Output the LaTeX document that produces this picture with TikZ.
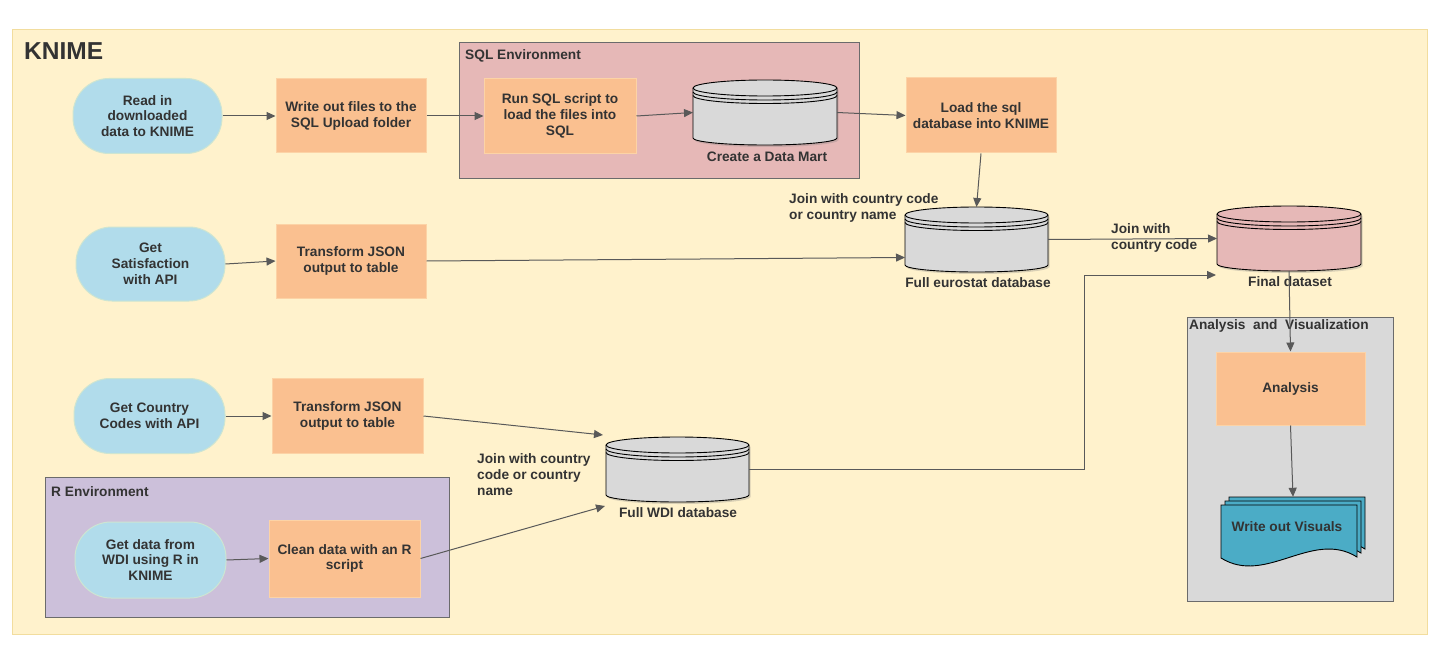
\documentclass[tikz,border=0pt]{standalone}
\usepackage{fontspec}
\setmainfont{Liberation Sans}
\usetikzlibrary{arrows.meta,calc,shadows}
\definecolor{kbg}{HTML}{FFF2CC}
\definecolor{kbd}{HTML}{F2DD9E}
\definecolor{tblue}{HTML}{B1DCEB}
\definecolor{tbluebd}{HTML}{CDE5D2}
\definecolor{porange}{HTML}{FAC090}
\definecolor{porangebd}{HTML}{FCD3A6}
\definecolor{sqlpink}{HTML}{E6B8B7}
\definecolor{rpurple}{HTML}{CCC0DA}
\definecolor{avgray}{HTML}{D9D9D9}
\definecolor{envbd}{HTML}{6B6B6B}
\definecolor{cylgray}{HTML}{D9D9D9}
\definecolor{docblue}{HTML}{4BACC6}
\definecolor{arrcol}{HTML}{595959}
\definecolor{txt}{HTML}{333333}

% data store cylinder: name, cx, cy, w, h, fill
\newcommand{\dstore}[6]{%
  \pgfmathsetmacro{\dsL}{#2-#4/2}%
  \pgfmathsetmacro{\dsR}{#2+#4/2}%
  \pgfmathsetmacro{\dsT}{#3-#5/2+8}%
  \pgfmathsetmacro{\dsB}{#3+#5/2-7}%
  \pgfmathsetmacro{\dsX}{#4/2}%
  \path[fill=#6, draw=black, line width=0.9pt,
        drop shadow={shadow xshift=1.5pt, shadow yshift=-2pt, opacity=0.3}]
    (\dsL,\dsT) -- (\dsL,\dsB)
    arc[start angle=180, end angle=360, x radius=\dsX pt, y radius=7pt]
    -- (\dsR,\dsT)
    arc[start angle=0, end angle=180, x radius=\dsX pt, y radius=8pt] -- cycle;
  \draw[line width=0.9pt] (\dsL,\dsT) arc[start angle=180, end angle=360, x radius=\dsX pt, y radius=8pt];
  \draw[line width=0.9pt] (\dsL,\dsT+4) arc[start angle=180, end angle=360, x radius=\dsX pt, y radius=8pt];
  \draw[line width=0.9pt] (\dsL,\dsT+7.5) arc[start angle=180, end angle=360, x radius=\dsX pt, y radius=8pt];
  \node[minimum width=#4pt, minimum height=#5pt, inner sep=0pt, outer sep=0pt] (#1) at (#2,#3) {};
}

% one sheet of the multi-document shape, shifted right by #1 and up by #2
\newcommand{\docsheet}[2]{%
  \path[fill=docblue, draw=black, line width=0.9pt]
    (1221+#1,505-#2) -- (1357+#1,505-#2) -- (1357+#1,557-#2)
    .. controls (1312+#1,529-#2) and (1266+#1,586-#2) .. (1221+#1,558-#2) -- cycle;
}

\begin{document}
\begin{tikzpicture}[x=1pt,y=-1pt,
  font=\bfseries\fontsize{13.7}{15.8}\selectfont, text=txt,
  term/.style={rectangle, rounded corners=36pt, fill=tblue, draw=tbluebd,
               line width=1pt, align=center, inner sep=2pt},
  proc/.style={rectangle, fill=porange, draw=porangebd, line width=1pt,
               align=center, inner sep=2pt},
  env/.style={rectangle, draw=envbd, line width=1pt, anchor=north west, inner sep=0pt},
  lbl/.style={inner sep=0pt, align=left},
  arr/.style={draw=arrcol, line width=1pt, -{Triangle[length=9pt,width=8pt]}},
]
\useasboundingbox (0,0) rectangle (1439,647);
\fill[white] (0,0) rectangle (1439,647);

% main container
\node[rectangle, fill=kbg, draw=kbd, line width=1pt, anchor=north west, inner sep=0pt,
      minimum width=1415pt, minimum height=605pt] (knime) at (12,29) {};
\node[lbl, anchor=west] (knimelbl) at (24,51) {\fontsize{24.5}{28}\selectfont KNIME};

% environments
\node[env, fill=sqlpink, minimum width=400pt, minimum height=136pt] (sqlenv) at (459,42) {};
\node[lbl, anchor=west] (sqllbl) at (465,56) {SQL Environment};
\node[env, fill=rpurple, minimum width=404pt, minimum height=140pt] (renv) at (45,477) {};
\node[lbl, anchor=west] (rlbl) at (51,492) {R Environment};
\node[env, fill=avgray, minimum width=206pt, minimum height=284pt] (avenv) at (1187,317) {};
\node[lbl, anchor=west] (avlbl) at (1189,326) {Analysis\ \ and\ \ Visualization};

% row 1
\node[term, minimum width=149pt, minimum height=75pt] (read) at (147.5,116)
  {Read in\\downloaded\\data to KNIME};
\node[proc, minimum width=150pt, minimum height=74pt] (writeout) at (351,116)
  {Write out files to the\\SQL Upload folder};
\node[proc, minimum width=152pt, minimum height=75pt] (runsql) at (560,116)
  {Run SQL script to\\load the files into\\SQL};
\dstore{mart}{765}{112.5}{144}{65}{cylgray}
\node[lbl] (martlbl) at (767,157) {Create a Data Mart};
\node[proc, minimum width=150pt, minimum height=75pt] (load) at (981,115.5)
  {Load the sql\\database into KNIME};

% row 2
\node[term, minimum width=149pt, minimum height=74pt] (sat) at (150.5,264)
  {Get\\Satisfaction\\with API};
\node[proc, minimum width=150pt, minimum height=74pt] (tr1) at (351,261)
  {Transform JSON\\output to table};
\dstore{euro}{976.5}{239.5}{143}{65}{cylgray}
\node[lbl] (eurolbl) at (978,283) {Full eurostat database};
\node[lbl, anchor=west] (join1) at (789,208) {Join with country code\\or country name};
\dstore{final}{1289}{238.5}{144}{65}{sqlpink}
\node[lbl] (finallbl) at (1290,282) {Final dataset};
\node[lbl, anchor=west] (join2) at (1111,238) {Join with\\country code};

% row 3
\node[term, minimum width=151pt, minimum height=75pt] (cc) at (149.5,416)
  {Get Country\\Codes with API};
\node[proc, minimum width=151pt, minimum height=75pt] (tr2) at (347.5,416)
  {Transform JSON\\output to table};
\dstore{wdi}{677.5}{469.5}{143}{65}{cylgray}
\node[lbl] (wdilbl) at (678,513) {Full WDI database};
\node[lbl, anchor=west] (join3) at (477,474.5) {Join with country\\code or country\\name};

% row 4 (R)
\node[term, minimum width=151pt, minimum height=76pt] (wdir) at (150.5,560)
  {Get data from\\WDI using R in\\KNIME};
\node[proc, minimum width=151pt, minimum height=77pt] (clean) at (344.5,558.5)
  {Clean data with an R\\script};

% analysis
\node[proc, minimum width=149pt, minimum height=73pt] (analysis) at (1290.5,388.5) {Analysis};
\docsheet{8}{8}
\docsheet{4}{4}
\docsheet{0}{0}
\node[minimum width=145pt, minimum height=71pt, inner sep=0pt] (wov) at (1293,532.5) {};
\node[lbl] (wovlbl) at (1287,527) {Write out Visuals};

% connectors
\coordinate (finin) at (1216,275);
\coordinate (bend) at (1084,275);
\draw[arr] (read.east) -- (writeout.west);
\draw[arr] (writeout.east) -- (runsql.west);
\draw[arr] (runsql.east) -- (mart.west);
\draw[arr] (mart.east) -- (load.west);
\draw[arr] (load.south) -- (euro.north);
\draw[arr] (sat.east) -- (tr1.west);
\draw[arr] (tr1.east) -- ($(euro.west)+(0,18)$);
\draw[arr] (euro.east) -- (final.west);
\draw[arr] (wdi.east) -| (bend) -- (finin);
\draw[arr] (final.south) -- (analysis.north);
\draw[arr] (analysis.south) -- (wov.north);
\draw[arr] (cc.east) -- (tr2.west);
\draw[arr] (tr2.east) -- ($(wdi.north west)+(-3,-2)$);
\draw[arr] (wdir.east) -- (clean.west);
\draw[arr] (clean.east) -- ($(wdi.south west)+(-1,4)$);
\end{tikzpicture}
\end{document}
